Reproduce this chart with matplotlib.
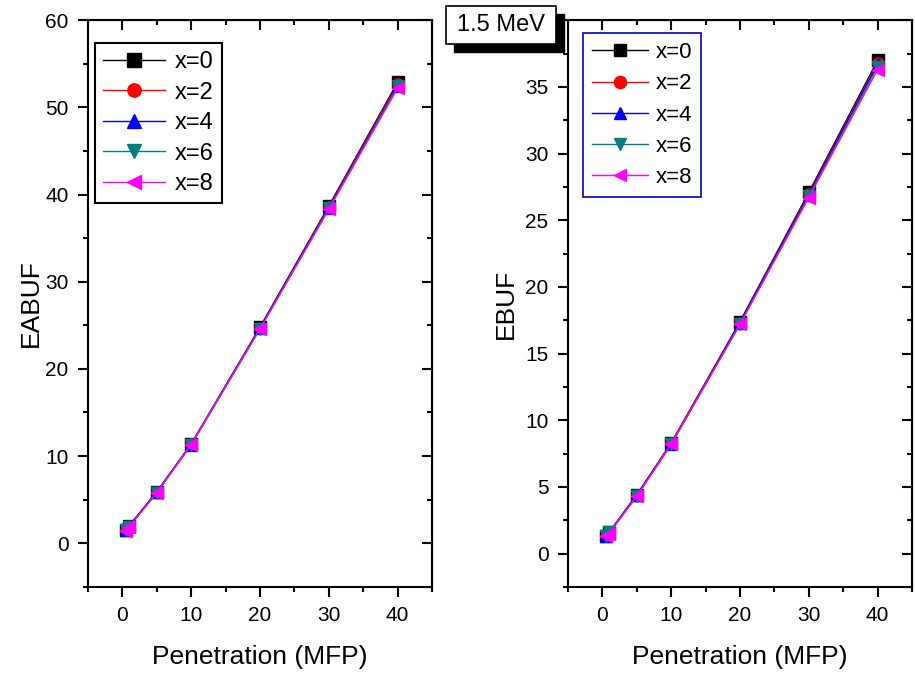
# Recreates the EABUF / EBUF vs penetration depth figure (1.5 MeV)
import matplotlib.pyplot as plt
from matplotlib.patches import Rectangle
from matplotlib.ticker import MultipleLocator, FixedLocator

plt.rcParams["font.family"] = ["Liberation Sans", "DejaVu Sans"]

# penetration depth (mfp)
depth = [0.5, 1, 5, 10, 20, 30, 40]

labels = ["x=0", "x=2", "x=4", "x=6", "x=8"]

eabuf_x0 = [1.5, 2.0, 5.9, 11.4, 24.8, 38.7, 52.9]
eabuf_x2 = [1.5, 2.0, 5.9, 11.4, 24.7, 38.6, 52.7]
eabuf_x4 = [1.5, 2.0, 5.9, 11.3, 24.7, 38.5, 52.5]
eabuf_x6 = [1.5, 1.9, 5.8, 11.3, 24.6, 38.4, 52.4]
eabuf_x8 = [1.4, 1.9, 5.8, 11.3, 24.6, 38.3, 52.2]

ebuf_x0 = [1.3, 1.6, 4.4, 8.3, 17.4, 27.1, 37.0]
ebuf_x2 = [1.3, 1.6, 4.4, 8.3, 17.3, 27.0, 36.8]
ebuf_x4 = [1.3, 1.6, 4.4, 8.2, 17.3, 26.9, 36.7]
ebuf_x6 = [1.3, 1.6, 4.3, 8.2, 17.2, 26.8, 36.5]
ebuf_x8 = [1.3, 1.5, 4.3, 8.2, 17.2, 26.7, 36.3]

eabuf_yticks = [0, 10, 20, 30, 40, 50, 60]
ebuf_yticks = [0, 5, 10, 15, 20, 25, 30, 35]

colors = ["black", "red", "blue", "#008080", "magenta"]
markers = ["s", "o", "^", "v", "<"]


def style_axes(ax, yticks, yminor):
    for s in ax.spines.values():
        s.set_linewidth(1.5)
    ax.set_xlim(-5, 45)
    ax.xaxis.set_major_locator(MultipleLocator(10))
    ax.xaxis.set_minor_locator(MultipleLocator(5))
    ax.yaxis.set_major_locator(FixedLocator(yticks))
    ax.yaxis.set_minor_locator(MultipleLocator(yminor))
    ax.tick_params(which="both", direction="out", width=1.5, labelsize=15, pad=7)
    ax.tick_params(which="major", length=7)
    ax.tick_params(which="minor", length=3.5)
    # mirrored ticks on top / right pointing inward
    tx = ax.secondary_xaxis("top")
    tx.xaxis.set_major_locator(MultipleLocator(10))
    tx.xaxis.set_minor_locator(MultipleLocator(5))
    tx.tick_params(which="both", direction="in", width=1.5, labeltop=False)
    tx.tick_params(which="major", length=7)
    tx.tick_params(which="minor", length=3.5)
    ty = ax.secondary_yaxis("right")
    ty.yaxis.set_major_locator(MultipleLocator(yminor * 2))
    ty.yaxis.set_minor_locator(MultipleLocator(yminor))
    ty.tick_params(which="both", direction="in", width=1.5, labelright=False)
    ty.tick_params(which="major", length=7)
    ty.tick_params(which="minor", length=3.5)
    ax.set_xlabel("Penetration (MFP)", fontsize=19, labelpad=14)


fig = plt.figure(figsize=(9.15, 6.73), dpi=100)
ax1 = fig.add_axes([0.0962, 0.128, 0.376, 0.842])
ax2 = fig.add_axes([0.6208, 0.128, 0.376, 0.842])

for ys, lab, c, m in zip([eabuf_x0, eabuf_x2, eabuf_x4, eabuf_x6, eabuf_x8],
                         labels, colors, markers):
    ax1.plot(depth, ys, color=c, marker=m, markersize=8, linewidth=1, label=lab)

for ys, lab, c, m in zip([ebuf_x0, ebuf_x2, ebuf_x4, ebuf_x6, ebuf_x8],
                         labels, colors, markers):
    ax2.plot(depth, ys, color=c, marker=m, markersize=8, linewidth=1, label=lab)

ax1.set_ylim(-5, 60)
style_axes(ax1, eabuf_yticks, 5)
ax1.set_ylabel("EABUF", fontsize=19, labelpad=2)

ax2.set_ylim(-2.5, 40)
style_axes(ax2, ebuf_yticks, 2.5)
ax2.set_ylabel("EBUF", fontsize=19, labelpad=5)

leg1 = ax1.legend(loc="upper left", bbox_to_anchor=(0.02, 0.96), borderaxespad=0,
                  fontsize=17, handlelength=2.6, labelspacing=0.36, fancybox=False,
                  edgecolor="black", framealpha=1, borderpad=0.35, handletextpad=0.45,
                  markerscale=1.2)
leg1.get_frame().set_linewidth(1.5)

leg2 = ax2.legend(loc="upper left", bbox_to_anchor=(0.044, 0.977), borderaxespad=0,
                  fontsize=16, handlelength=2.5, labelspacing=0.46, fancybox=False,
                  edgecolor="#0000cc", framealpha=1, borderpad=0.4, handletextpad=0.35,
                  markerscale=1.1)
leg2.get_frame().set_linewidth(1.2)

# "1.5 MeV" boxed label with drop shadow
W, H = 915, 673
bx0, bx1, by0, by1 = 446, 556, 6, 44
off = 8
fig.patches.append(Rectangle(((bx0 + off) / W, 1 - (by1 + off) / H),
                             (bx1 - bx0) / W, (by1 - by0) / H,
                             transform=fig.transFigure, facecolor="black",
                             edgecolor="black", zorder=5))
fig.patches.append(Rectangle((bx0 / W, 1 - by1 / H), (bx1 - bx0) / W, (by1 - by0) / H,
                             transform=fig.transFigure, facecolor="white",
                             edgecolor="black", linewidth=1.2, zorder=6))
fig.text((bx0 + bx1) / 2 / W, 1 - (by0 + by1) / 2 / H, "1.5 MeV", fontsize=17,
         ha="center", va="center", zorder=7)

fig.savefig("out.png", dpi=100)
